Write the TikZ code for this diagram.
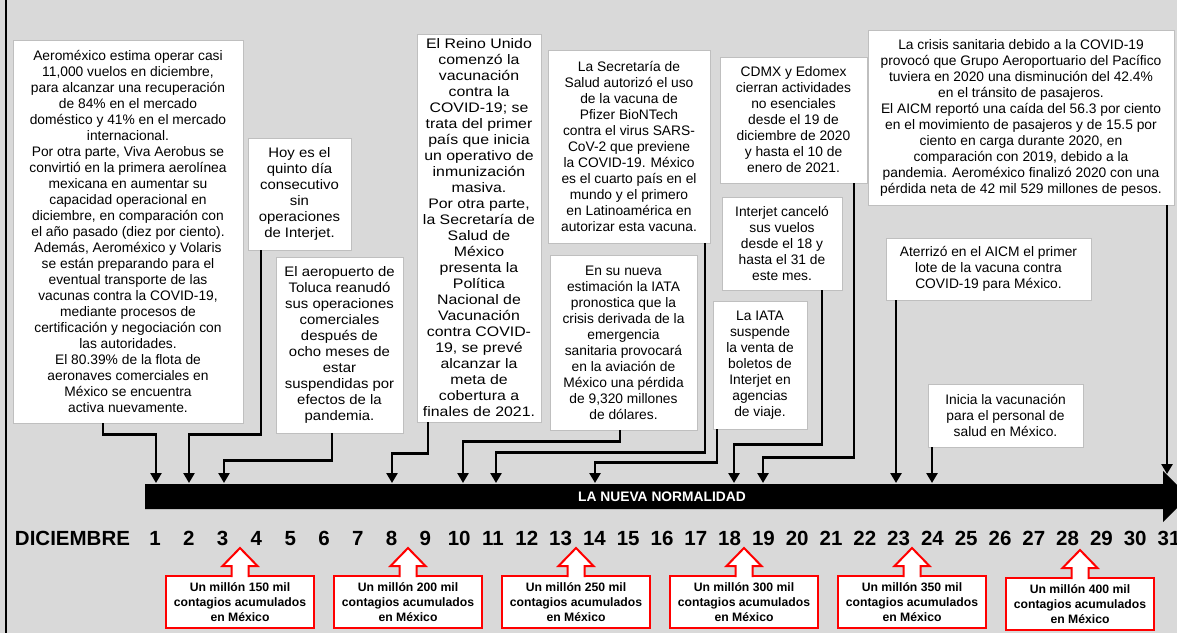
\documentclass[tikz,border=0pt]{standalone}
\usepackage{fontspec}
\setmainfont{Liberation Sans}
\newfontfamily\anchaB[FakeStretch=1.08]{Liberation Sans}
\newfontfamily\anchaD[FakeStretch=1.15]{Liberation Sans}
\usepackage{tikz}
\usetikzlibrary{arrows.meta}
\usetikzlibrary{positioning}
\definecolor{fondo}{RGB}{217,217,217}
\definecolor{borde}{RGB}{191,191,191}
\tikzset{
    evento/.style={
           rectangle,
           draw=borde, fill=white,
           align=center,
           inner sep=2pt,
           font=\fontsize{13.8}{16}\selectfont,
           },
    conector/.style={
           ->, draw=black, line width=2.8pt,
           },
    contagio/.style={
           rectangle,
           draw=red, fill=white, line width=2pt,
           outer sep=0pt, inner sep=0pt,
           minimum width=148, minimum height=52,
           align=center,
           font=\bfseries\fontsize{12.2}{15.3}\selectfont,
           },
    flecha/.style={
           draw=red, fill=white, line width=2pt,
           },
    dia/.style={
           font=\bfseries\fontsize{20.5}{24}\selectfont,
           },
}

\begin{document}
\begin{tikzpicture}[x=1pt,y=-1pt,>={Triangle[length=10pt,width=11pt]}]

    \useasboundingbox (0,0) rectangle (1177,633);
    \clip (0,0) rectangle (1177,633);
    \fill[fondo] (0,0) rectangle (1177,633);
    \draw[line width=2pt] (6,0) -- (6,633);

    % eventos de diciembre
    \node[evento,minimum width=230,minimum height=383] (aeromexico) at (128,231.5)
        {Aeroméxico estima operar casi\\11,000 vuelos en diciembre,\\para alcanzar una recuperación\\de 84\% en el mercado\\doméstico y 41\% en el mercado\\internacional.\\Por otra parte, Viva Aerobus se\\convirtió en la primera aerolínea\\mexicana en aumentar su\\capacidad operacional en\\diciembre, en comparación con\\el año pasado (diez por ciento).\\Además, Aeroméxico y Volaris\\se están preparando para el\\eventual transporte de las\\vacunas contra la COVID-19,\\mediante procesos de\\certificación y negociación con\\las autoridades.\\El 80.39\% de la flota de\\aeronaves comerciales en\\México se encuentra\\activa nuevamente.};
    \node[evento,minimum width=103,minimum height=112,font=\anchaB\fontsize{13.8}{16}\selectfont] (quintodia) at (299.5,194)
        {Hoy es el\\quinto día\\consecutivo\\sin\\operaciones\\de Interjet.};
    \node[evento,minimum width=127,minimum height=176,font=\anchaB\fontsize{13.8}{16}\selectfont] (toluca) at (339.5,345)
        {El aeropuerto de\\Toluca reanudó\\sus operaciones\\comerciales\\después de\\ocho meses de\\estar\\suspendidas por\\efectos de la\\pandemia.};
    \node[evento,minimum width=124,minimum height=388,font=\anchaD\fontsize{13.8}{16}\selectfont] (reinounido) at (479,228)
        {El Reino Unido\\comenzó la\\vacunación\\contra la\\COVID-19; se\\trata del primer\\país que inicia\\un operativo de\\inmunización\\masiva.\\Por otra parte,\\la Secretaría de\\Salud de\\México\\presenta la\\Política\\Nacional de\\Vacunación\\contra COVID-\\19, se prevé\\alcanzar la\\meta de\\cobertura a\\finales de 2021.};
    \node[evento,minimum width=162,minimum height=193] (pfizer) at (629,146.5)
        {La Secretaría de\\Salud autorizó el uso\\de la vacuna de\\Pfizer BioNTech\\contra el virus SARS-\\CoV-2 que previene\\la COVID-19. México\\es el cuarto país en el\\mundo y el primero\\en Latinoamérica en\\autorizar esta vacuna.};
    \node[evento,minimum width=147,minimum height=175] (iata) at (623.5,342.5)
        {En su nueva\\estimación la IATA\\pronostica que la\\crisis derivada de la\\emergencia\\sanitaria provocará\\en la aviación de\\México una pérdida\\de 9,320 millones\\de dólares.};
    \node[evento,minimum width=147,minimum height=126] (cdmx) at (793.5,120)
        {CDMX y Edomex\\cierran actividades\\no esenciales\\desde el 19 de\\diciembre de 2020\\y hasta el 10 de\\enero de 2021.};
    \node[evento,minimum width=120,minimum height=93] (cancela) at (782,243.5)
        {Interjet canceló\\sus vuelos\\desde el 18 y\\hasta el 31 de\\este mes.};
    \node[evento,minimum width=94,minimum height=128] (suspende) at (760,365)
        {La IATA\\suspende\\la venta de\\boletos de\\Interjet en\\agencias\\de viaje.};
    \node[evento,minimum width=306,minimum height=175] (perdida) at (1021,117.5)
        {La crisis sanitaria debido a la COVID-19\\provocó que Grupo Aeroportuario del Pacífico\\tuviera en 2020 una disminución del 42.4\%\\en el tránsito de pasajeros.\\El AICM reportó una caída del 56.3 por ciento\\en el movimiento de pasajeros y de 15.5 por\\ciento en carga durante 2020, en\\comparación con 2019, debido a la\\pandemia. Aeroméxico finalizó 2020 con una\\pérdida neta de 42 mil 529 millones de pesos.};
    \node[evento,minimum width=205,minimum height=62] (lote) at (988.5,269)
        {Aterrizó en el AICM el primer\\lote de la vacuna contra\\COVID-19 para México.};
    \node[evento,minimum width=155,minimum height=63] (vacunacion) at (1005.5,415.5)
        {Inicia la vacunación\\para el personal de\\salud en México.};

    % linea de tiempo
    \fill (145,484) -- (1163,484) -- (1163,471) -- (1188.5,496.5) -- (1163,522)
        -- (1163,509) -- (145,509) -- cycle;
    \node[text=white,font=\bfseries\fontsize{13.8}{15}\selectfont] (normalidad) at (662,497)
        {LA NUEVA NORMALIDAD};
    \node[dia] (mes) at (72.5,538.5) {DICIEMBRE};
    \foreach \d in {1,...,31}
        \node[dia] (dia\d) at ({155+(\d-1)*33.8},538.5) {\d};

    \coordinate (llega1)  at (156,483);
    \coordinate (llega2)  at (189,483);
    \coordinate (llega3)  at (224,483);
    \coordinate (llega8)  at (392,483);
    \coordinate (llega10) at (463,483);
    \coordinate (llega11) at (496,483);
    \coordinate (llega14) at (595,483);
    \coordinate (llega18) at (734,483);
    \coordinate (llega19) at (763,483);
    \coordinate (llega23) at (896,483);
    \coordinate (llega24) at (932,483);
    \coordinate (llega31) at (1167,474);

    \draw[conector] ([xshift=-25]aeromexico.south) -- ++(0,11) -| (llega1);
    \draw[conector] ([xshift=-38.5]quintodia.south) -- ++(0,184) -| (llega2);
    \draw[conector] ([xshift=-7.5]toluca.south) -- ++(0,27) -| (llega3);
    \draw[conector] ([xshift=-51]reinounido.south) -- ++(0,31) -| (llega8);
    \draw[conector] ([xshift=-3.5]iata.south) -- ++(0,11) -| (llega10);
    \draw[conector] ([xshift=76]pfizer.south) -- ++(0,209) -| (llega11);
    \draw[conector] ([xshift=-43]suspende.south) -- ++(0,33) -| (llega14);
    \draw[conector] ([xshift=40]cancela.south) -- ++(0,154) -| (llega18);
    \draw[conector] ([xshift=60.5]cdmx.south) -- ++(0,274) -| (llega19);
    \draw[conector] ([xshift=-92.5]lote.south) -- (llega23);
    \draw[conector] ([xshift=-73.5]vacunacion.south) -- (llega24);
    \draw[conector] ([xshift=146]perdida.south) -- (llega31);

    % contagios acumulados
    \node[contagio] (c150) at (240,602) {Un millón 150 mil\\contagios acumulados\\en México};
    \node[contagio] (c200) at (408,602) {Un millón 200 mil\\contagios acumulados\\en México};
    \node[contagio] (c250) at (576,602) {Un millón 250 mil\\contagios acumulados\\en México};
    \node[contagio] (c300) at (744,602) {Un millón 300 mil\\contagios acumulados\\en México};
    \node[contagio] (c350) at (912,602) {Un millón 350 mil\\contagios acumulados\\en México};
    \node[contagio] (c400) at (1080,604) {Un millón 400 mil\\contagios acumulados\\en México};

    \draw[flecha] ([xshift=-8.5,yshift=-1.2]c150.north) -- ++(0,-11.2) -- ++(-9,0) -- ++(17.5,-18) -- ++(17.5,18) -- ++(-9,0) -- ++(0,11.2);
    \draw[flecha] ([xshift=-8.5,yshift=-1.2]c200.north) -- ++(0,-11.2) -- ++(-9,0) -- ++(17.5,-18) -- ++(17.5,18) -- ++(-9,0) -- ++(0,11.2);
    \draw[flecha] ([xshift=-8.5,yshift=-1.2]c250.north) -- ++(0,-11.2) -- ++(-9,0) -- ++(17.5,-18) -- ++(17.5,18) -- ++(-9,0) -- ++(0,11.2);
    \draw[flecha] ([xshift=-8.5,yshift=-1.2]c300.north) -- ++(0,-11.2) -- ++(-9,0) -- ++(17.5,-18) -- ++(17.5,18) -- ++(-9,0) -- ++(0,11.2);
    \draw[flecha] ([xshift=-8.5,yshift=-1.2]c350.north) -- ++(0,-11.2) -- ++(-9,0) -- ++(17.5,-18) -- ++(17.5,18) -- ++(-9,0) -- ++(0,11.2);
    \draw[flecha] ([xshift=-8.5,yshift=-1.2]c400.north) -- ++(0,-11.2) -- ++(-9,0) -- ++(17.5,-18) -- ++(17.5,18) -- ++(-9,0) -- ++(0,11.2);

\end{tikzpicture}
\end{document}
